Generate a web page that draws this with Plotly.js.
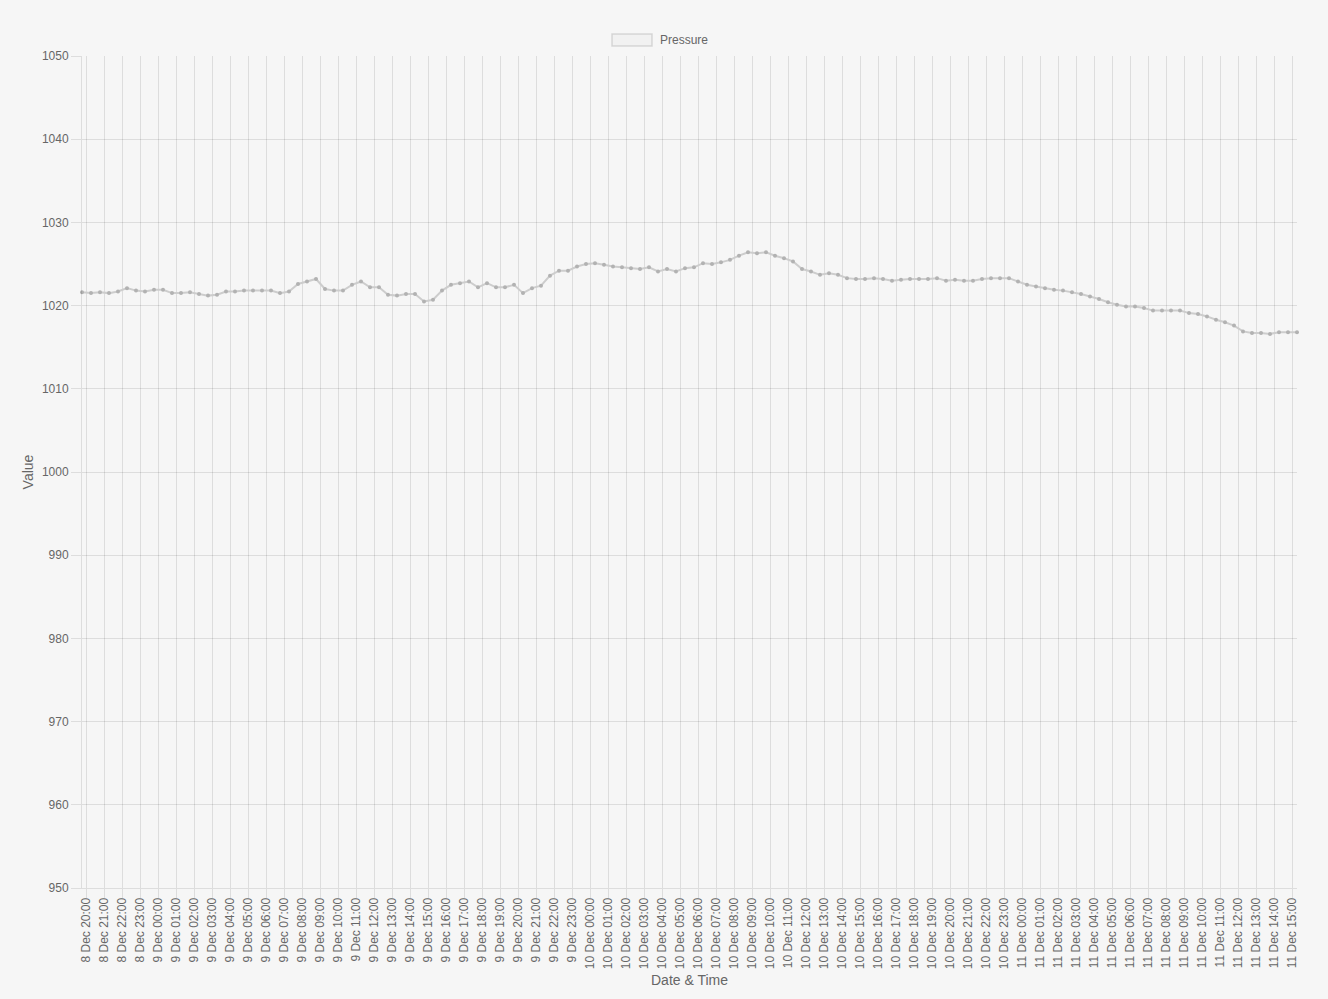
<!DOCTYPE html>
<html>
<head>
<meta charset="utf-8">
<script src="https://cdn.plot.ly/plotly-3.0.1.min.js"></script>
<style>
  html, body { margin: 0; padding: 0; background: #f6f6f6; }
  #chart { width: 1328px; height: 999px; }
</style>
</head>
<body>
<div id="chart"></div>
<script>
// Reading times (half-hourly), grouped by day
const day8 = ["19:46","20:16","20:46","21:16","21:46","22:16","22:46","23:16","23:46"];
const fullDay = ["00:16","00:46","01:16","01:46","02:16","02:46","03:16","03:46","04:16","04:46","05:16","05:46",
  "06:16","06:46","07:16","07:46","08:16","08:46","09:16","09:46","10:16","10:46","11:16","11:46",
  "12:16","12:46","13:16","13:46","14:16","14:46","15:16","15:46","16:16","16:46","17:16","17:46",
  "18:16","18:46","19:16","19:46","20:16","20:46","21:16","21:46","22:16","22:46","23:16","23:46"];
const day11 = ["00:16","00:46","01:16","01:46","02:16","02:46","03:16","03:46","04:16","04:46","05:16","05:46",
  "06:16","06:46","07:16","07:46","08:16","08:46","09:16","09:46","10:16","10:46","11:16","11:46",
  "12:16","12:46","13:16","13:46","14:16","14:46","15:16"];

const times = [].concat(
  day8.map(t => "2023-12-08 " + t),
  fullDay.map(t => "2023-12-09 " + t),
  fullDay.map(t => "2023-12-10 " + t),
  day11.map(t => "2023-12-11 " + t)
);

// Pressure values (hPa)
const pressure = [
  1021.6,1021.5,1021.6,1021.5,1021.7,1022.1,1021.8,1021.7,1021.9,1021.9,
  1021.5,1021.5,1021.6,1021.4,1021.2,1021.3,1021.7,1021.7,1021.8,1021.8,
  1021.8,1021.8,1021.5,1021.7,1022.6,1022.9,1023.2,1022.0,1021.8,1021.8,
  1022.5,1022.9,1022.2,1022.2,1021.3,1021.2,1021.4,1021.4,1020.5,1020.7,
  1021.8,1022.5,1022.7,1022.9,1022.2,1022.7,1022.2,1022.2,1022.5,1021.5,
  1022.1,1022.4,1023.6,1024.2,1024.2,1024.7,1025.0,1025.1,1024.9,1024.7,
  1024.6,1024.5,1024.4,1024.6,1024.1,1024.4,1024.1,1024.5,1024.6,1025.1,
  1025.0,1025.2,1025.5,1026.0,1026.4,1026.3,1026.4,1026.0,1025.7,1025.3,
  1024.4,1024.1,1023.7,1023.9,1023.7,1023.3,1023.2,1023.2,1023.3,1023.2,
  1023.0,1023.1,1023.2,1023.2,1023.2,1023.3,1023.0,1023.1,1023.0,1023.0,
  1023.2,1023.3,1023.3,1023.3,1022.9,1022.5,1022.3,1022.1,1021.9,1021.8,
  1021.6,1021.4,1021.1,1020.8,1020.4,1020.1,1019.9,1019.9,1019.7,1019.4,
  1019.4,1019.4,1019.4,1019.1,1019.0,1018.7,1018.3,1018.0,1017.6,1016.9,
  1016.7,1016.7,1016.6,1016.8,1016.8,1016.8
];

const seriesName = "Pressure";
const yTitle = "Value";
const xTitle = "Date & Time";

const textColor = "#666666";
const gridColor = "rgba(0,0,0,0.1)";
const fontFam = "Liberation Sans, Arial, Helvetica, sans-serif";

const trace = {
  type: "scatter",
  mode: "lines+markers",
  x: times,
  y: pressure,
  name: seriesName,
  showlegend: false,
  cliponaxis: false,
  line: { color: "rgba(205,205,205,1)", width: 2 },
  marker: { color: "rgba(178,178,178,1)", size: 4 }
};

const layout = {
  width: 1328,
  height: 999,
  paper_bgcolor: "#f6f6f6",
  plot_bgcolor: "#f6f6f6",
  margin: { l: 82, r: 31, t: 56, b: 111 },
  font: { family: fontFam, size: 12, color: textColor },
  showlegend: false,
  xaxis: {
    type: "date",
    range: [times[0], times[times.length - 1]],
    tick0: "2023-12-08 20:00",
    dtick: 3600000,
    tickformat: "%-d %b %H:%M",
    tickangle: -90,
    ticks: "outside",
    ticklen: 9,
    ticklabelstandoff: -5,
    tickcolor: gridColor,
    showgrid: true,
    gridcolor: gridColor,
    gridwidth: 1,
    showline: true,
    linecolor: gridColor,
    linewidth: 1,
    zeroline: false,
    tickfont: { family: fontFam, size: 12, color: textColor },
    title: { text: xTitle, font: { family: fontFam, size: 14, color: textColor }, standoff: 7 },
    fixedrange: true
  },
  yaxis: {
    range: [950, 1050],
    dtick: 10,
    tick0: 950,
    ticks: "outside",
    ticklen: 10,
    tickcolor: gridColor,
    showgrid: true,
    gridcolor: gridColor,
    gridwidth: 1,
    showline: true,
    linecolor: gridColor,
    linewidth: 1,
    zeroline: false,
    tickfont: { family: fontFam, size: 12, color: textColor },
    title: { text: yTitle, font: { family: fontFam, size: 14, color: textColor }, standoff: 4 },
    fixedrange: true
  },
  shapes: [
    {
      type: "rect", xref: "paper", yref: "paper",
      x0: (612 - 82) / 1215, x1: (652 - 82) / 1215,
      y0: 1 + (56 - 46) / 832, y1: 1 + (56 - 34) / 832,
      line: { color: "rgba(0,0,0,0.12)", width: 1.5 },
      fillcolor: "rgba(0,0,0,0.02)"
    }
  ],
  annotations: [
    {
      xref: "paper", yref: "paper",
      x: (658 - 82) / 1215, y: 1 + (56 - 40) / 832,
      xanchor: "left", yanchor: "middle",
      text: seriesName, showarrow: false,
      font: { family: fontFam, size: 12, color: textColor }
    }
  ]
};

Plotly.newPlot("chart", [trace], layout, { displayModeBar: false, staticPlot: true });
</script>
</body>
</html>
